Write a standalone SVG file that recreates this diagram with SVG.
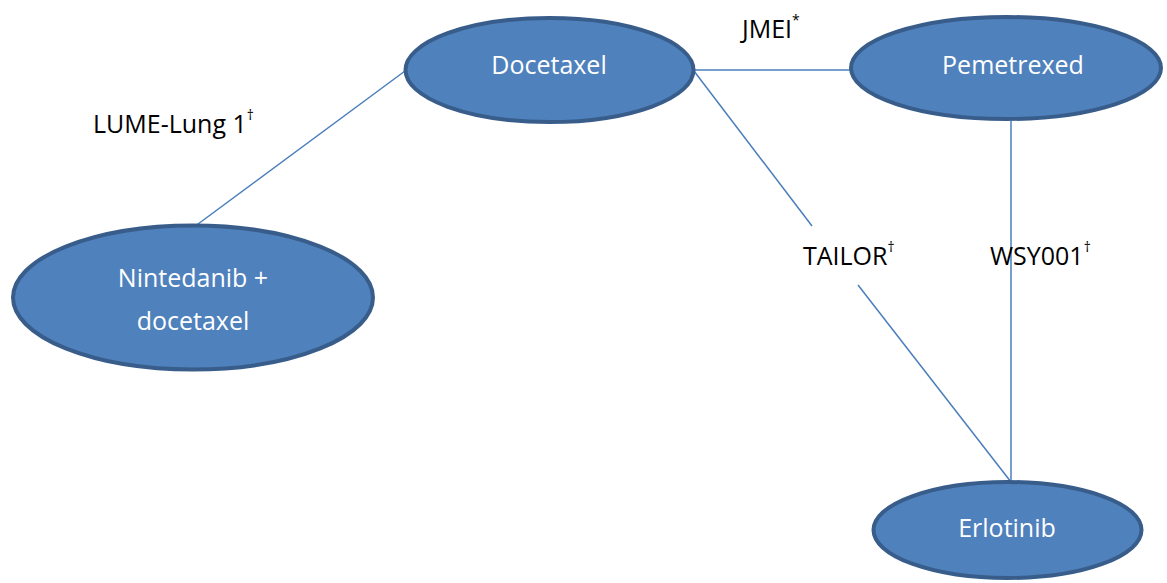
<svg xmlns="http://www.w3.org/2000/svg" width="1167" height="583" viewBox="0 0 1167 583">
<style>
.node{fill:#4f81bd;stroke:#385d8a;stroke-width:4}
.nt{fill:#ffffff;font-family:"Open Sans","Liberation Sans",sans-serif;font-size:25px;text-anchor:middle}
.lbl{fill:#000000;font-family:"Open Sans","Liberation Sans",sans-serif;font-size:25px}
.sup{font-size:14px}
.edge{stroke:#4a7ebb;stroke-width:1.5;fill:none}
</style>
<rect width="1167" height="583" fill="#ffffff"/>
<g id="connectors">
<line class="edge" x1="405" y1="71" x2="194" y2="227"/>
<line class="edge" x1="694" y1="70" x2="851" y2="70"/>
<line class="edge" x1="694" y1="71" x2="812" y2="226"/>
<line class="edge" x1="858" y1="285" x2="1011" y2="482"/>
<line class="edge" x1="1011" y1="121" x2="1011" y2="482"/>
</g>
<g id="labels">
<text class="lbl" x="93" y="133">LUME-Lung 1<tspan class="sup" dy="-13">†</tspan></text>
<text class="lbl" x="742" y="38">JMEI<tspan class="sup" dy="-13">*</tspan></text>
<text class="lbl" x="803" y="265">TAILOR<tspan class="sup" dy="-13">†</tspan></text>
<text class="lbl" x="990" y="265">WSY001<tspan class="sup" dy="-13">†</tspan></text>
</g>
<g id="docetaxel">
<ellipse class="node" cx="549.5" cy="70" rx="144" ry="52"/>
<text class="nt" x="549" y="74">Docetaxel</text>
</g>
<g id="pemetrexed">
<ellipse class="node" cx="1006" cy="68" rx="155" ry="51"/>
<text class="nt" x="1013" y="74">Pemetrexed</text>
</g>
<g id="nintedanib">
<ellipse class="node" cx="193" cy="297.5" rx="180" ry="72"/>
<text class="nt" x="193" y="287">Nintedanib +</text>
<text class="nt" x="193" y="330">docetaxel</text>
</g>
<g id="erlotinib">
<ellipse class="node" cx="1007.5" cy="530" rx="134" ry="48"/>
<text class="nt" x="1007" y="537">Erlotinib</text>
</g>
</svg>
